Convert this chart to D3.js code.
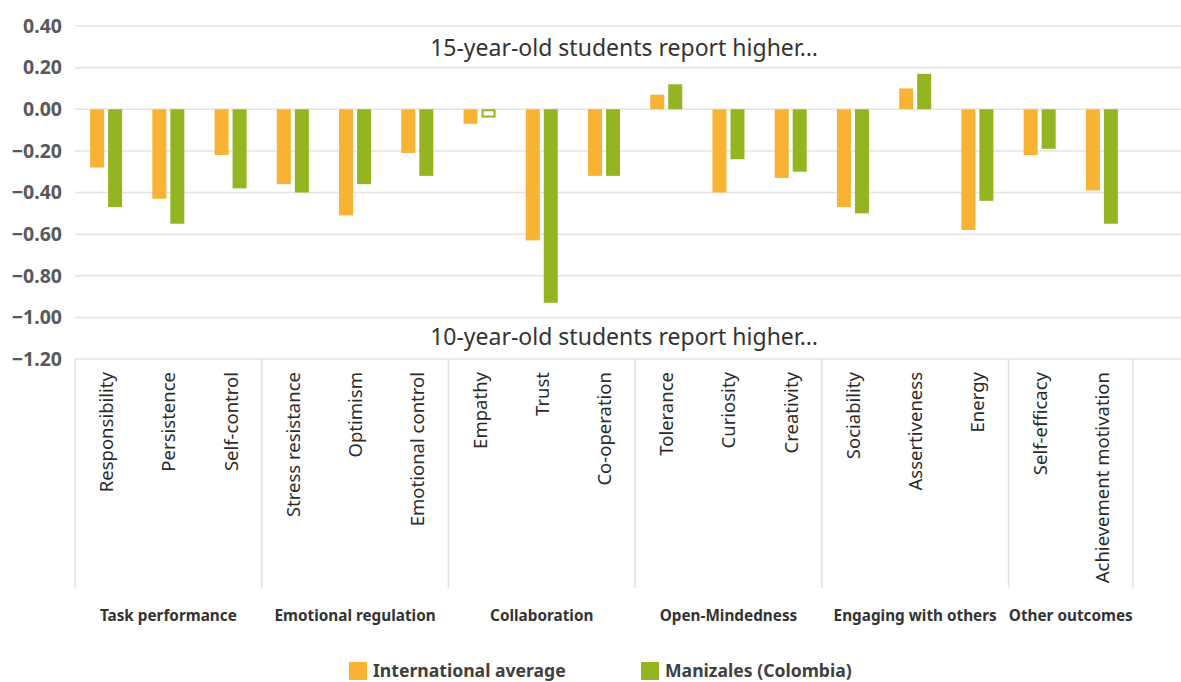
<!DOCTYPE html>
<html>
<head>
<meta charset="utf-8">
<script src="https://cdn.jsdelivr.net/npm/d3@7"></script>
<style>
	body { margin: 0; background: #ffffff; }
	text { font-family: "Noto Sans", "Open Sans", sans-serif; }
</style>
</head>
<body>
<div id="chart-area"></div>
<script>

// data
let categories = ["Responsibility", "Persistence", "Self-control",
	"Stress resistance", "Optimism", "Emotional control",
	"Empathy", "Trust", "Co-operation",
	"Tolerance", "Curiosity", "Creativity",
	"Sociability", "Assertiveness", "Energy",
	"Self-efficacy", "Achievement motivation"];

let groups = ["Task performance", "Emotional regulation", "Collaboration",
	"Open-Mindedness", "Engaging with others", "Other outcomes"];
let groupSizes = [3, 3, 3, 3, 3, 2];

let international = [-0.28, -0.43, -0.22, -0.36, -0.51, -0.21,
	-0.07, -0.63, -0.32, 0.07, -0.40, -0.33,
	-0.47, 0.10, -0.58, -0.22, -0.39];
let manizales = [-0.47, -0.55, -0.38, -0.40, -0.36, -0.32,
	-0.04, -0.93, -0.32, 0.12, -0.24, -0.30,
	-0.50, 0.17, -0.44, -0.19, -0.55];
// not significant -> drawn hollow
let manizalesHollow = ["Empathy"];

let yTicks = [0.4, 0.2, 0, -0.2, -0.4, -0.6, -0.8, -1.0, -1.2];
let seriesNames = ["International average", "Manizales (Colombia)"];
let seriesColors = ["#F9B233", "#95B422"];

let width = 1181;
let height = 682;

let plot = {left: 75, right: 1133, gridRight: 1181, top: 26, bottom: 359};

let svg = d3.select("#chart-area").append("svg")
	.attr("width", width)
	.attr("height", height);

// Scales
let x = d3.scaleBand()
	.domain(categories)
	.range([plot.left, plot.right])
	.padding(0);

let y = d3.scaleLinear()
	.domain([-1.2, 0.4])
	.range([plot.bottom, plot.top]);

// gridlines
svg.append("g")
	.selectAll("line")
	.data(yTicks)
	.enter()
	.append("line")
	.attr("x1", plot.left)
	.attr("x2", plot.gridRight)
	.attr("y1", d => y(d))
	.attr("y2", d => y(d))
	.style("stroke", "#e4e4e4")
	.style("stroke-width", 1.5);

// y axis
let yAxis = d3.axisLeft(y)
	.tickValues(yTicks)
	.tickFormat(d3.format(".2f"))
	.tickSize(0)
	.tickPadding(13);

let yAxisGroup = svg.append("g")
	.attr("transform", "translate(" + plot.left + ",0)")
	.call(yAxis);
yAxisGroup.select(".domain").remove();
yAxisGroup.selectAll("text")
	.style("font-family", "'Noto Sans', sans-serif")
	.style("font-size", "19.5px")
	.style("font-weight", "bold")
	.style("fill", "#595959");

// annotations
svg.append("text")
	.attr("x", 624)
	.attr("y", y(0.4) + 30)
	.attr("text-anchor", "middle")
	.style("font-size", "23px")
	.style("fill", "#333333")
	.text("15-year-old students report higher…");

svg.append("text")
	.attr("x", 624)
	.attr("y", y(-1.0) + 28)
	.attr("text-anchor", "middle")
	.style("font-size", "23px")
	.style("fill", "#333333")
	.text("10-year-old students report higher…");

// bars
let barW = 14;
let gap = 2;

svg.append("g")
	.selectAll("rect")
	.data(categories)
	.enter()
	.append("rect")
	.attr("x", d => x(d) + x.bandwidth() / 2 - gap - barW)
	.attr("y", (d, i) => y(Math.max(0, international[i])))
	.attr("width", barW)
	.attr("height", (d, i) => Math.abs(y(international[i]) - y(0)))
	.style("fill", seriesColors[0]);

svg.append("g")
	.selectAll("rect")
	.data(categories)
	.enter()
	.append("rect")
	.each(function (d, i) {
		let hollow = manizalesHollow.indexOf(d) >= 0;
		let bx = x(d) + x.bandwidth() / 2 + gap;
		let by = y(Math.max(0, manizales[i]));
		let bh = Math.abs(y(manizales[i]) - y(0));
		let r = d3.select(this);
		if (hollow) {
			r.attr("x", bx + 1)
				.attr("y", by + 1)
				.attr("width", barW - 2)
				.attr("height", bh - 2)
				.style("fill", "#ffffff")
				.style("stroke", seriesColors[1])
				.style("stroke-width", 2);
		} else {
			r.attr("x", bx)
				.attr("y", by)
				.attr("width", barW)
				.attr("height", bh)
				.style("fill", seriesColors[1]);
		}
	});

// category labels (rotated)
svg.append("g")
	.selectAll("text")
	.data(categories)
	.enter()
	.append("text")
	.attr("transform", d => "translate(" + (x(d) + x.bandwidth() / 2 + 7) + "," + (plot.bottom + 13) + ") rotate(-90)")
	.attr("text-anchor", "end")
	.style("font-size", "18.5px")
	.style("fill", "#2b2b2b")
	.text(d => d);

// group separators and labels
let groupStart = [];
let k = 0;
for (let i = 0; i < groups.length; i++) {
	groupStart.push(k);
	k += groupSizes[i];
}

let sepX = groupStart.map(s => x(categories[s]));
sepX.push(plot.right);

svg.append("g")
	.selectAll("line")
	.data(sepX)
	.enter()
	.append("line")
	.attr("x1", d => d)
	.attr("x2", d => d)
	.attr("y1", plot.bottom)
	.attr("y2", 588)
	.style("stroke", "#e0e0e0")
	.style("stroke-width", 1.5);

svg.append("g")
	.selectAll("text")
	.data(groups)
	.enter()
	.append("text")
	.attr("x", (d, i) => (sepX[i] + sepX[i + 1]) / 2)
	.attr("y", 621)
	.attr("text-anchor", "middle")
	.style("font-size", "15.3px")
	.style("font-weight", "bold")
	.style("fill", "#333333")
	.text(d => d);

// legend
let legendX = [349, 641];
let legend = svg.append("g")
	.selectAll("g")
	.data(seriesNames)
	.enter()
	.append("g")
	.attr("transform", (d, i) => "translate(" + legendX[i] + ",662)");

legend.append("rect")
	.attr("width", 18)
	.attr("height", 18)
	.style("fill", (d, i) => seriesColors[i]);

legend.append("text")
	.attr("x", 24)
	.attr("y", 15)
	.style("font-size", "17.6px")
	.style("font-weight", "bold")
	.style("fill", "#404040")
	.text(d => d);

</script>
</body>
</html>
